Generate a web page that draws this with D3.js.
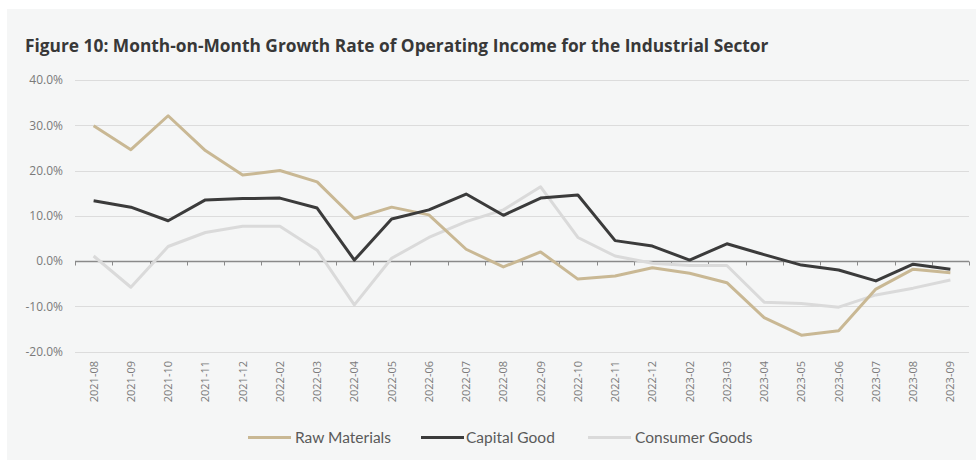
<!DOCTYPE html>
<html>
<head>
<meta charset="utf-8">
<script src="https://cdn.jsdelivr.net/npm/d3@7"></script>
<style>
  html, body { margin: 0; padding: 0; background: #ffffff; }
  svg { display: block; font-family: "Open Sans", "Noto Sans", sans-serif; }
</style>
</head>
<body>
<svg id="chart" width="976" height="460"></svg>
<script>
// Months on the x axis
const months = [
  "2021-08", "2021-09", "2021-10", "2021-11", "2021-12",
  "2022-02", "2022-03", "2022-04", "2022-05", "2022-06", "2022-07",
  "2022-08", "2022-09", "2022-10", "2022-11", "2022-12",
  "2023-02", "2023-03", "2023-04", "2023-05", "2023-06", "2023-07",
  "2023-08", "2023-09"
];

// Month-on-month growth rates, in percent
const rawMaterials = [
  29.9, 24.6, 32.1, 24.4, 19.0, 20.0, 17.5, 9.4, 11.9, 10.2, 2.6, -1.3,
  2.0, -4.0, -3.3, -1.5, -2.7, -4.8, -12.5, -16.4, -15.4, -6.2, -1.8, -2.6
];
const capitalGood = [
  13.3, 11.9, 8.9, 13.5, 13.8, 13.9, 11.7, 0.2, 9.3, 11.3, 14.8, 10.1,
  13.9, 14.6, 4.5, 3.3, 0.2, 3.8, 1.4, -0.9, -2.0, -4.4, -0.7, -1.8
];
const consumerGoods = [
  1.1, -5.8, 3.2, 6.3, 7.7, 7.7, 2.4, -9.7, 0.6, 5.2, 8.7, 11.3,
  16.4, 5.2, 1.1, -0.5, -1.0, -1.0, -9.1, -9.4, -10.2, -7.5, -6.0, -4.2
];

const yTicks = [40, 30, 20, 10, 0, -10, -20];

const seriesNames = ["Raw Materials", "Capital Good", "Consumer Goods"];
const seriesValues = [rawMaterials, capitalGood, consumerGoods];
const seriesColors = ["#c9b894", "#3b3b3b", "#dadada"];

const title = "Figure 10: Month-on-Month Growth Rate of Operating Income for the Industrial Sector";

const svg = d3.select("#chart");
const W = 976, H = 460;

// panel background
svg.append("rect")
  .attr("x", 7).attr("y", 9)
  .attr("width", W - 7).attr("height", H - 9)
  .attr("fill", "#f5f6f6");

// title, fitted to its line width
const titleText = svg.append("text")
  .attr("x", 25).attr("y", 52)
  .attr("fill", "#383838")
  .attr("font-weight", 700)
  .attr("font-size", 17)
  .text(title);
const tw = titleText.node().getComputedTextLength();
titleText.attr("font-size", 17 * 744 / tw);

const margin = { left: 75, right: 7, top: 80, bottom: 109 };
const x = d3.scaleBand()
  .domain(months)
  .range([margin.left, W - margin.right])
  .paddingInner(0).paddingOuter(0);
const y = d3.scaleLinear()
  .domain([-20, 40])
  .range([351.5, 80]);

// horizontal gridlines
svg.append("g")
  .selectAll("line")
  .data(yTicks.filter(d => d !== 0))
  .join("line")
  .attr("x1", margin.left).attr("x2", W - margin.right)
  .attr("y1", d => Math.round(y(d)) + 0.5)
  .attr("y2", d => Math.round(y(d)) + 0.5)
  .attr("stroke", "#dcdcdc")
  .attr("stroke-width", 1);

// y axis labels
const yAxis = d3.axisLeft(y)
  .tickValues(yTicks)
  .tickSize(0)
  .tickPadding(0)
  .tickFormat(d => d.toFixed(1) + "%");
const gy = svg.append("g")
  .attr("transform", "translate(63,0)")
  .call(yAxis);
gy.select(".domain").remove();
gy.selectAll("text")
  .attr("fill", "#7a7a7a")
  .attr("font-size", 12)
  .attr("font-family", "'Open Sans', sans-serif");

// zero axis with ticks between categories
const zeroY = Math.round(y(0)) + 0.5;
const gx = svg.append("g").attr("transform", `translate(0,${zeroY})`);
gx.append("line")
  .attr("x1", margin.left).attr("x2", W - margin.right)
  .attr("stroke", "#8a8a8a").attr("stroke-width", 1.5);
const boundaries = months.map(m => x(m)).concat([x(months[months.length - 1]) + x.bandwidth()]);
gx.selectAll("line.tick")
  .data(boundaries)
  .join("line")
  .attr("class", "tick")
  .attr("x1", d => Math.round(d) + 0.5).attr("x2", d => Math.round(d) + 0.5)
  .attr("y1", 0).attr("y2", 4)
  .attr("stroke", "#8a8a8a").attr("stroke-width", 1);

// x axis labels, rotated, below the plot
svg.append("g")
  .selectAll("text")
  .data(months)
  .join("text")
  .attr("transform", d => `translate(${x(d) + x.bandwidth() / 2 + 4},361) rotate(-90)`)
  .attr("text-anchor", "end")
  .attr("fill", "#7a7a7a")
  .attr("font-size", 11)
  .text(d => d);

// series lines
const line = d3.line()
  .x((d, i) => x(months[i]) + x.bandwidth() / 2)
  .y(d => y(d));

const drawOrder = [2, 0, 1];
svg.append("g")
  .selectAll("path")
  .data(drawOrder)
  .join("path")
  .attr("d", k => line(seriesValues[k]))
  .attr("fill", "none")
  .attr("stroke", k => seriesColors[k])
  .attr("stroke-width", 3)
  .attr("stroke-linejoin", "round");

// legend
const legendItems = [
  { sx: 248, tx: 295 },
  { sx: 421, tx: 466 },
  { sx: 588, tx: 635 }
];
const lg = svg.append("g");
legendItems.forEach((p, k) => {
  lg.append("line")
    .attr("x1", p.sx).attr("x2", p.sx + 43)
    .attr("y1", 437.5).attr("y2", 437.5)
    .attr("stroke", seriesColors[k])
    .attr("stroke-width", 3);
  lg.append("text")
    .attr("x", p.tx).attr("y", 437.5)
    .attr("dy", "0.35em")
    .attr("fill", "#5a5a5a")
    .attr("font-family", "Lato, 'Open Sans', sans-serif")
    .attr("font-size", 15.5)
    .text(seriesNames[k]);
});
</script>
</body>
</html>
